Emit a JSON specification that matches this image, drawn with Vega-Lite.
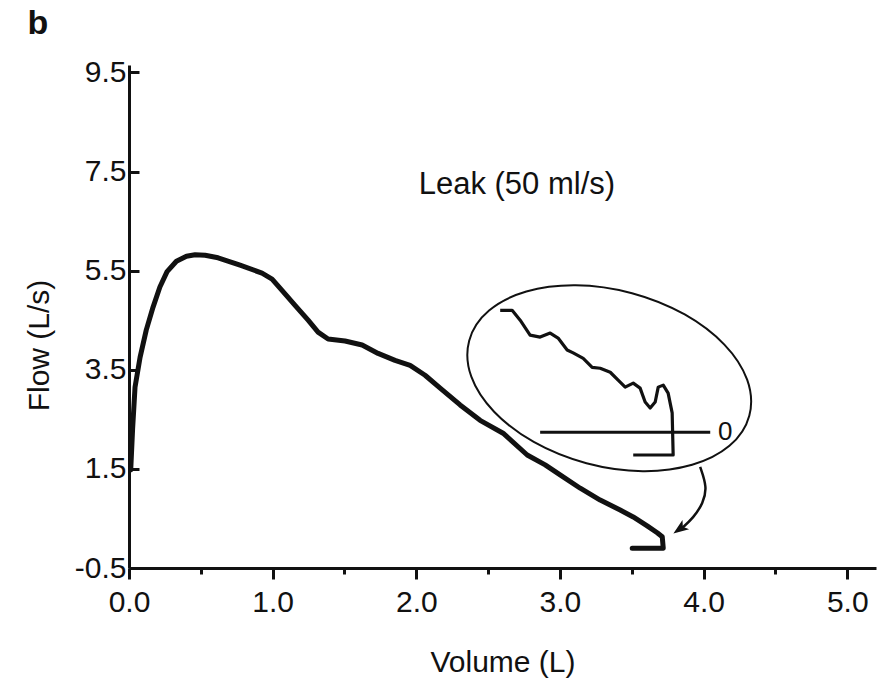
{
  "$schema": "https://vega.github.io/schema/vega-lite/v6.json",
  "width": 747,
  "height": 503,
  "autosize": {"type": "none"},
  "padding": {"left": 129, "top": 65, "right": 3, "bottom": 118},
  "background": "white",
  "config": {
    "view": {"stroke": null},
    "font": "Liberation Sans",
    "axis": {"domainColor": "#111", "domainWidth": 3, "tickColor": "#111", "tickWidth": 3, "labelColor": "#111", "titleColor": "#111", "labelFontSize": 30, "titleFontSize": 30, "titleFontWeight": "normal", "grid": false, "labelFont": "Liberation Sans", "titleFont": "Liberation Sans"}
  },
  "datasets": {
    "main": [
      {"volume": 0.012, "flow": 1.48},
      {"volume": 0.025, "flow": 2.3},
      {"volume": 0.042, "flow": 3.15},
      {"volume": 0.077, "flow": 3.75},
      {"volume": 0.12, "flow": 4.3},
      {"volume": 0.167, "flow": 4.76},
      {"volume": 0.215, "flow": 5.17},
      {"volume": 0.265, "flow": 5.48},
      {"volume": 0.33, "flow": 5.69},
      {"volume": 0.4, "flow": 5.79},
      {"volume": 0.46, "flow": 5.82},
      {"volume": 0.53, "flow": 5.81},
      {"volume": 0.62, "flow": 5.76},
      {"volume": 0.773, "flow": 5.61},
      {"volume": 0.926, "flow": 5.45},
      {"volume": 0.996, "flow": 5.33},
      {"volume": 1.065, "flow": 5.1},
      {"volume": 1.156, "flow": 4.8},
      {"volume": 1.247, "flow": 4.5},
      {"volume": 1.316, "flow": 4.26},
      {"volume": 1.386, "flow": 4.12},
      {"volume": 1.504, "flow": 4.08},
      {"volume": 1.623, "flow": 4.0},
      {"volume": 1.734, "flow": 3.83},
      {"volume": 1.852, "flow": 3.69},
      {"volume": 1.957, "flow": 3.59},
      {"volume": 2.061, "flow": 3.39},
      {"volume": 2.166, "flow": 3.13},
      {"volume": 2.305, "flow": 2.79},
      {"volume": 2.444, "flow": 2.48},
      {"volume": 2.604, "flow": 2.22},
      {"volume": 2.772, "flow": 1.78},
      {"volume": 2.897, "flow": 1.58},
      {"volume": 3.001, "flow": 1.38},
      {"volume": 3.141, "flow": 1.11},
      {"volume": 3.28, "flow": 0.87},
      {"volume": 3.419, "flow": 0.67},
      {"volume": 3.51, "flow": 0.53},
      {"volume": 3.607, "flow": 0.35},
      {"volume": 3.677, "flow": 0.21},
      {"volume": 3.712, "flow": 0.13},
      {"volume": 3.719, "flow": -0.1},
      {"volume": 3.503, "flow": -0.1}
    ],
    "inset": [
      {"volume": 2.584, "flow": 4.7},
      {"volume": 2.667, "flow": 4.7},
      {"volume": 2.723, "flow": 4.5},
      {"volume": 2.792, "flow": 4.2},
      {"volume": 2.862, "flow": 4.16},
      {"volume": 2.932, "flow": 4.24},
      {"volume": 2.987, "flow": 4.14},
      {"volume": 3.05, "flow": 3.9},
      {"volume": 3.092, "flow": 3.84},
      {"volume": 3.162, "flow": 3.73},
      {"volume": 3.224, "flow": 3.55},
      {"volume": 3.28, "flow": 3.53},
      {"volume": 3.35, "flow": 3.45},
      {"volume": 3.405, "flow": 3.29},
      {"volume": 3.454, "flow": 3.15},
      {"volume": 3.51, "flow": 3.23},
      {"volume": 3.558, "flow": 3.13},
      {"volume": 3.593, "flow": 2.85},
      {"volume": 3.628, "flow": 2.73},
      {"volume": 3.663, "flow": 2.85},
      {"volume": 3.684, "flow": 3.15},
      {"volume": 3.719, "flow": 3.19},
      {"volume": 3.753, "flow": 3.03},
      {"volume": 3.781, "flow": 2.63},
      {"volume": 3.788, "flow": 1.78},
      {"volume": 3.51, "flow": 1.78}
    ],
    "zero": [
      {"volume": 2.862, "flow": 2.24},
      {"volume": 4.046, "flow": 2.24}
    ],
    "arrow": [
      {"volume": 3.976, "flow": 1.54},
      {"volume": 4.025, "flow": 1.13},
      {"volume": 3.997, "flow": 0.81},
      {"volume": 3.928, "flow": 0.51},
      {"volume": 3.851, "flow": 0.31}
    ],
    "arrowhead": [
      {"volume": 3.835, "flow": 0.29}
    ],
    "circle": [
      {"volume": 3.343, "flow": 3.33}
    ],
    "notes": [
      {"volume": 2.7, "flow": 7.22, "label": "Leak (50 ml/s)", "size": "big"},
      {"volume": 4.15, "flow": 2.24, "label": "0", "size": "small"}
    ],
    "panel": [
      {"volume": -0.634, "flow": 10.47, "label": "b"}
    ]
  },
  "layer": [
    {
      "data": {"name": "main"},
      "mark": {"type": "line", "stroke": "#111", "strokeWidth": 5, "strokeJoin": "round", "strokeCap": "round"},
      "encoding": {
        "x": {
          "field": "volume", "type": "quantitative",
          "scale": {"domain": [0, 5.2], "nice": false, "zero": false},
          "axis": {
            "title": "Volume (L)",
            "values": [0, 0.5, 1, 1.5, 2, 2.5, 3, 3.5, 4, 4.5, 5],
            "labelExpr": "datum.value % 1 === 0 ? format(datum.value, '.1f') : ''",
            "tickSize": {"condition": {"test": "datum.value % 1 !== 0", "value": 6}, "value": 11},
            "labelPadding": 8,
            "titlePadding": 30,
            "labelFlush": false,
            "labelOverlap": false
          }
        },
        "y": {
          "field": "flow", "type": "quantitative",
          "scale": {"domain": [-0.5, 9.65], "nice": false, "zero": false},
          "axis": {
            "title": "Flow (L/s)",
            "values": [-0.5, 1.5, 3.5, 5.5, 7.5, 9.5],
            "labelExpr": "replace(format(datum.value, '.1f'), '\u2212', '-')",
            "tickSize": -10,
            "labelPadding": 13,
            "titlePadding": 20,
            "titleY": 280,
            "labelFlush": false,
            "labelOverlap": false
          }
        },
        "order": {"value": null}
      }
    },
    {
      "data": {"name": "inset"},
      "mark": {"type": "line", "stroke": "#111", "strokeWidth": 3.2, "strokeJoin": "round"},
      "encoding": {
        "x": {"field": "volume", "type": "quantitative"},
        "y": {"field": "flow", "type": "quantitative"},
        "order": {"value": null}
      }
    },
    {
      "data": {"name": "zero"},
      "mark": {"type": "line", "stroke": "#111", "strokeWidth": 3},
      "encoding": {
        "x": {"field": "volume", "type": "quantitative"},
        "y": {"field": "flow", "type": "quantitative"}
      }
    },
    {
      "data": {"name": "arrow"},
      "mark": {"type": "line", "stroke": "#111", "strokeWidth": 2.5, "interpolate": "basis"},
      "encoding": {
        "x": {"field": "volume", "type": "quantitative"},
        "y": {"field": "flow", "type": "quantitative"},
        "order": {"value": null}
      }
    },
    {
      "data": {"name": "arrowhead"},
      "mark": {"type": "point", "shape": "M0,-1L0.7,0.9L0,0.45L-0.7,0.9Z", "filled": true, "color": "#111", "size": 260, "angle": 234, "opacity": 1},
      "encoding": {
        "x": {"field": "volume", "type": "quantitative"},
        "y": {"field": "flow", "type": "quantitative"}
      }
    },
    {
      "data": {"name": "circle"},
      "mark": {"type": "point", "shape": "M1,0C1,0.335,0.552,0.607,0,0.607C-0.552,0.607,-1,0.335,-1,0C-1,-0.335,-0.552,-0.607,0,-0.607C0.552,-0.607,1,-0.335,1,0Z", "filled": false, "stroke": "#111", "strokeWidth": 2, "size": 84100, "angle": 15, "opacity": 1},
      "encoding": {
        "x": {"field": "volume", "type": "quantitative"},
        "y": {"field": "flow", "type": "quantitative"}
      }
    },
    {
      "data": {"name": "notes"},
      "mark": {"type": "text", "font": "Liberation Sans", "color": "#111", "align": "center", "baseline": "middle"},
      "encoding": {
        "x": {"field": "volume", "type": "quantitative"},
        "y": {"field": "flow", "type": "quantitative"},
        "text": {"field": "label"},
        "size": {"field": "size", "type": "nominal", "scale": {"domain": ["big", "small"], "range": [31, 26]}, "legend": null}
      }
    },
    {
      "data": {"name": "panel"},
      "mark": {"type": "text", "font": "Liberation Sans", "color": "#111", "align": "center", "baseline": "middle", "fontSize": 34, "fontWeight": "bold"},
      "encoding": {
        "x": {"field": "volume", "type": "quantitative"},
        "y": {"field": "flow", "type": "quantitative"},
        "text": {"field": "label"}
      }
    }
  ]
}
